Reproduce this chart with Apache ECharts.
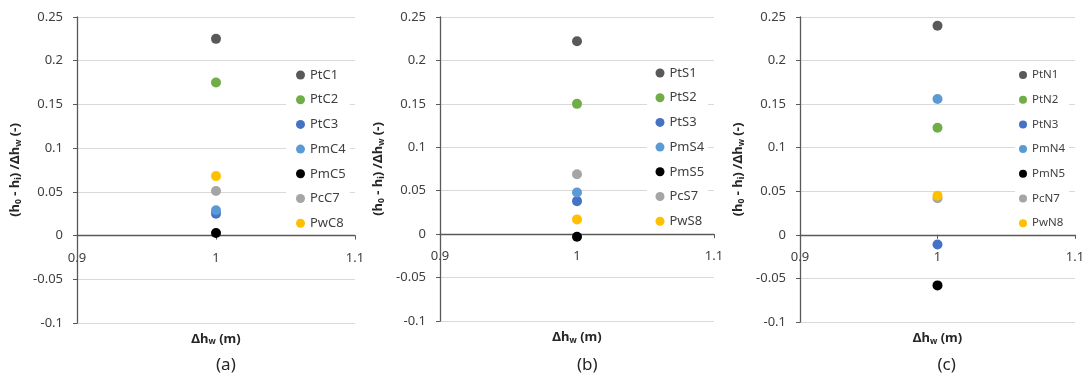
<!DOCTYPE html>
<html>
<head>
<meta charset="utf-8">
<style>html,body{margin:0;padding:0;background:#fff;}#c{width:1088px;height:383px;}</style>
<script src="https://cdn.jsdelivr.net/npm/echarts@6/dist/echarts.min.js"></script>
</head>
<body>
<div id="c"></div>
<script>
// ---- data ----
const seriesColors = ['#595959', '#70AD47', '#4472C4', '#5B9BD5', '#000000', '#A5A5A5', '#FFC000'];
const xValue = 1;
const namesA = ['PtC1', 'PtC2', 'PtC3', 'PmC4', 'PmC5', 'PcC7', 'PwC8'];
const valuesA = [0.225, 0.175, 0.025, 0.029, 0.003, 0.051, 0.068];
const namesB = ['PtS1', 'PtS2', 'PtS3', 'PmS4', 'PmS5', 'PcS7', 'PwS8'];
const valuesB = [0.222, 0.150, 0.038, 0.048, -0.003, 0.069, 0.017];
const namesC = ['PtN1', 'PtN2', 'PtN3', 'PmN4', 'PmN5', 'PcN7', 'PwN8'];
const valuesC = [0.240, 0.123, -0.011, 0.156, -0.058, 0.042, 0.045];
const yTicks = {min: -0.1, max: 0.25, interval: 0.05};
const xTicks = {min: 0.9, max: 1.1, interval: 0.1};
const panelLabels = ['(a)', '(b)', '(c)'];

const FONT = 'Noto Sans';
const panels = [
  {names: namesA, values: valuesA, grid: {left: 77, top: 17, width: 278, height: 306},
   legend: {left: 286, top: 67, pad: [0, 4, 0, 10], font: 13, icon: 9}},
  {names: namesB, values: valuesB, grid: {left: 440, top: 17, width: 274, height: 304},
   legend: {left: 647, top: 65, pad: [0, 4, 0, 8.5], font: 13, icon: 9}},
  {names: namesC, values: valuesC, grid: {left: 800, top: 17, width: 275, height: 305},
   legend: {left: 1015, top: 67, pad: [0, 4, 0, 4], font: 11.5, icon: 8}}
];

const grids = [], xAxes = [], yAxes = [], series = [], legends = [], graphics = [];
const rich = {sub: {fontSize: 8.5, verticalAlign: 'bottom', padding: [6, 0, 0, 0], fontWeight: 'bold', fontFamily: FONT, color: '#262626'}};

panels.forEach((p, i) => {
  grids.push(Object.assign({containLabel: false, outerBoundsMode: 'none'}, p.grid));
  // place the x axis at y = 0 of the value scale
  const zeroOffset = -p.grid.height * (0 - yTicks.min) / (yTicks.max - yTicks.min);
  xAxes.push({
    type: 'value', gridIndex: i, min: xTicks.min, max: xTicks.max, interval: xTicks.interval,
    position: 'bottom', offset: zeroOffset,
    axisLine: {show: true, onZero: false, lineStyle: {color: '#595959', width: 1.3}},
    axisTick: {show: true, inside: false, length: 4, lineStyle: {color: '#595959'}},
    axisLabel: {margin: 16, color: '#404040', fontSize: 13, fontFamily: FONT},
    splitLine: {show: false},
    name: 'Δh{sub|w} (m)', nameLocation: 'middle', nameGap: 96,
    nameTextStyle: {fontWeight: 'bold', fontSize: 13, fontFamily: FONT, color: '#262626', rich: rich}
  });
  yAxes.push({
    type: 'value', gridIndex: i, min: yTicks.min, max: yTicks.max, interval: yTicks.interval,
    axisLine: {show: true, onZero: false, lineStyle: {color: '#595959', width: 1.3}},
    axisTick: {show: true, inside: false, length: 4, lineStyle: {color: '#595959'}},
    axisLabel: {margin: 14, color: '#404040', fontSize: 13, fontFamily: FONT},
    splitLine: {show: true, lineStyle: {color: '#D9D9D9', width: 1}},
    name: '(h{sub|0} - h{sub|i}) /Δh{sub|w} (-)', nameLocation: 'middle', nameGap: 54,
    nameTextStyle: {fontWeight: 'bold', fontSize: 13, fontFamily: FONT, color: '#262626', rich: rich}
  });
  p.names.forEach((n, k) => {
    series.push({
      type: 'scatter', name: n, xAxisIndex: i, yAxisIndex: i,
      data: [[xValue, p.values[k]]], symbolSize: 10,
      itemStyle: {color: seriesColors[k], opacity: 1},
      emphasis: {disabled: true}
    });
  });
  legends.push({
    data: p.names, orient: 'vertical', left: p.legend.left, top: p.legend.top,
    padding: p.legend.pad, backgroundColor: '#ffffff',
    icon: 'circle', itemWidth: p.legend.icon, itemHeight: p.legend.icon,
    itemGap: 24.7 - 16,
    selectedMode: false,
    textStyle: {fontSize: p.legend.font, fontFamily: FONT, color: '#404040', lineHeight: 16}
  });
  graphics.push({
    type: 'text', left: p.grid.left + p.grid.width / 2, top: 357,
    style: {text: panelLabels[i], fontSize: 17, fontFamily: FONT, fill: '#262626', textAlign: 'center'}
  });
});

const chart = echarts.init(document.getElementById('c'), null, {renderer: 'canvas'});
chart.setOption({
  animation: false,
  backgroundColor: '#ffffff',
  grid: grids, xAxis: xAxes, yAxis: yAxes, series: series, legend: legends,
  graphic: graphics
});
</script>
</body>
</html>
